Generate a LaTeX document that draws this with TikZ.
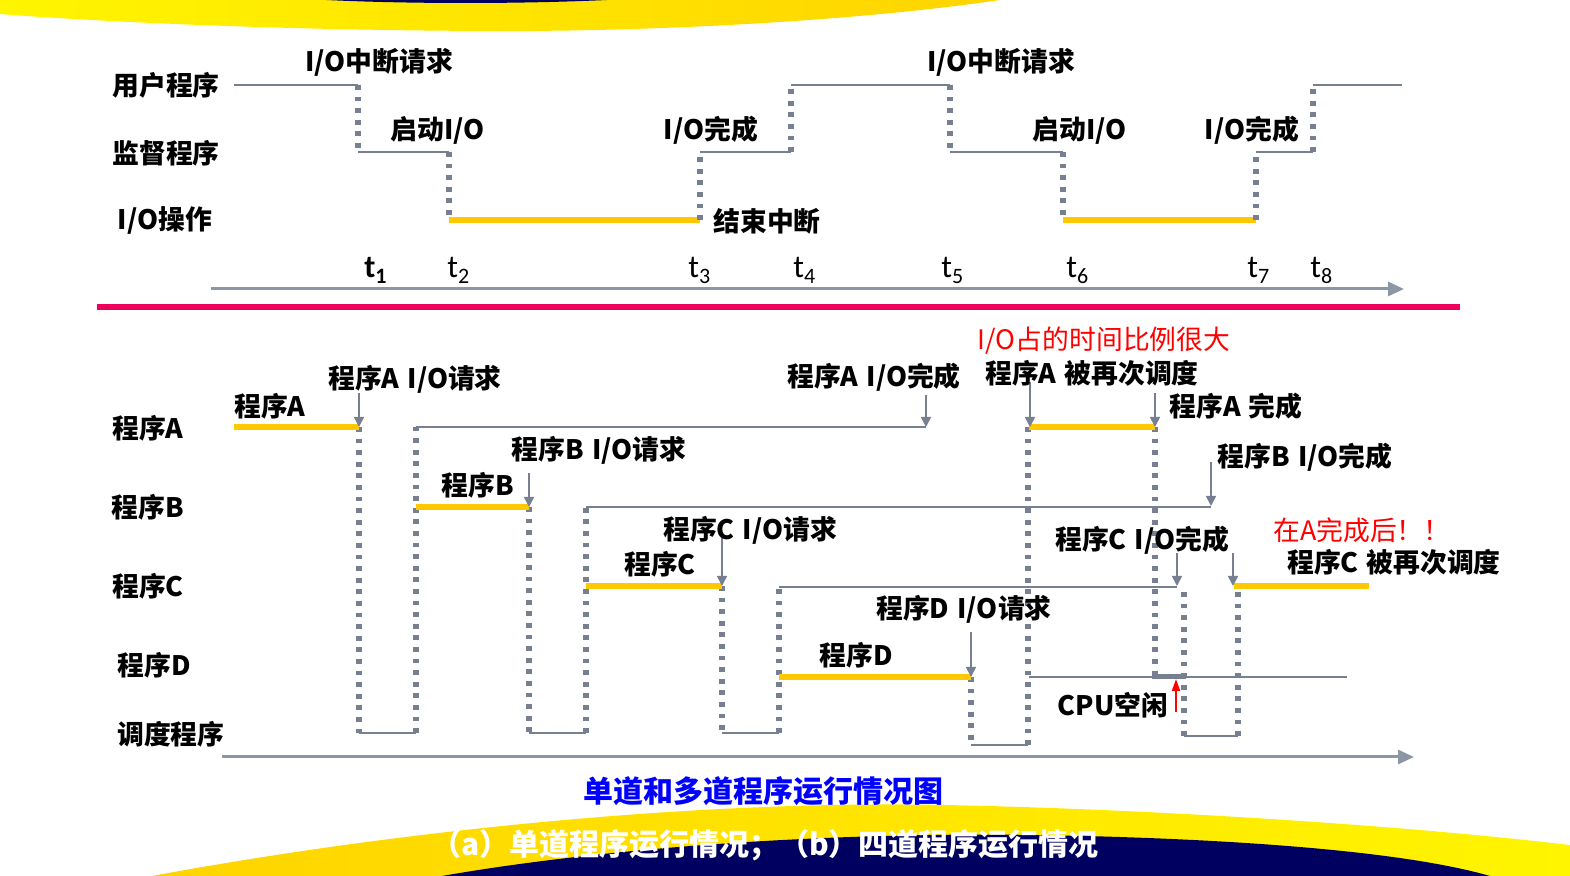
\documentclass[tikz,border=0pt]{standalone}
\usepackage{fontspec}
\usetikzlibrary{arrows.meta}
\setmainfont{Noto Sans CJK SC}
\newfontfamily\tfont{Carlito}
\definecolor{lgray}{RGB}{118,128,145}
\definecolor{axgray}{RGB}{140,150,165}
\definecolor{runyel}{RGB}{255,200,0}
\definecolor{rosered}{RGB}{236,0,92}
\definecolor{navy}{RGB}{0,0,96}
\definecolor{goldL}{RGB}{255,212,0}
\definecolor{yelR}{RGB}{255,245,0}
\newcommand{\tsub}[2][]{{\tfont\fontsize{16}{16}\selectfont#1t\raisebox{-3pt}{\fontsize{11}{11}\selectfont#2}}}
\newcommand{\gap}{\hspace{0.3em}}
\tikzset{
  lbl/.style={inner sep=0pt, font=\bfseries\fontsize{13.4}{15}\selectfont},
  note/.style={inner sep=0pt, text=red, font=\fontsize{13.4}{15}\selectfont},
  tlbl/.style={inner sep=0pt, anchor=base west},
  thinln/.style={draw=lgray, line width=1pt},
  dotln/.style={draw=lgray, line width=2.8pt, dash pattern=on 2.4pt off 3.4pt},
  run/.style={draw=runyel, line width=3pt},
  callout/.style={draw=lgray, line width=0.8pt, -{Triangle[length=5pt,width=5pt]}},
  axis/.style={draw=axgray, line width=1.5pt, -{Triangle[length=8pt,width=7pt]}}
}
\begin{document}
\begin{tikzpicture}[x=0.5pt,y=-0.5pt]
\useasboundingbox (0,0) rectangle (1570,876);
% decoration top and bottom
\shade[left color=yelR, right color=goldL] (0,0) -- (1000,0) .. controls (850,22) and (650,31) .. (510,31) .. controls (300,31) and (100,22) .. (0,14) -- cycle;
\fill[navy] (326,0) -- (607,0) .. controls (520,4) and (410,4) .. (326,0);
\shade[left color=goldL, right color=yelR] (152,876) .. controls (400,830) and (700,800) .. (944,805) .. controls (1150,809) and (1400,825) .. (1570,845) -- (1570,876) -- cycle;
\fill[navy] (442,876) .. controls (620,845) and (850,832) .. (1037,835) .. controls (1220,838) and (1400,850) .. (1490,876) -- cycle;

% single program
\node[lbl] (lblU) at (166,85) {用户程序};
\node[lbl] (lblS) at (166,153) {监督程序};
\node[lbl] (lblIO) at (165,221) {I/O操作};
\foreach \xa/\xb/\y in {234/358/85, 358/449/152, 700/791/152, 791/950/85, 950/1063/152, 1256/1313/152, 1313/1402/85}
  \draw[thinln] (\xa,\y) -- (\xb,\y);
\draw[run] (449,220) -- (700,220); \draw[run] (1063,220) -- (1256,220);
\foreach \x/\ya/\yb in {358/85/152, 449/152/220, 700/220/152, 791/152/85, 950/85/152, 1063/152/220, 1256/220/152, 1313/152/85}
  \draw[dotln] (\x,\ya) -- (\x,\yb);
\node[lbl] (intA) at (379,62) {I/O中断请求};
\node[lbl] (startA) at (438,130) {启动I/O};
\node[lbl] (doneA) at (711,130) {I/O完成};
\node[lbl] (endint) at (767,221) {结束中断};
\node[lbl] (intB) at (1001,62) {I/O中断请求};
\node[lbl] (startB) at (1080,130) {启动I/O};
\node[lbl] (doneB) at (1252,130) {I/O完成};
\node[tlbl] (t1) at (364,278) {\tsub[\bfseries]{1}};
\foreach \x/\n in {447/2, 688/3, 793/4, 941/5, 1066/6, 1247/7, 1310/8}
  \node[tlbl] (t\n) at (\x,278) {\tsub{\n}};
\draw[axis] (211,289) -- (1404,289);
\draw[rosered, line width=3pt] (97,307) -- (1460,307);

% four programs
\node[lbl] (pA) at (148,428) {程序A};
\node[lbl] (pB) at (148,507) {程序B};
\node[lbl] (pC) at (148,586) {程序C};
\node[lbl] (pD) at (154,665) {程序D};
\node[lbl] (sched) at (171,734) {调度程序};
\draw[thinln] (416,427) -- (926,427); \draw[thinln] (586,507) -- (1211,507); \draw[thinln] (779,587) -- (1177,587);
\draw[thinln] (1029,677) -- (1347,677);
\foreach \xa/\xb/\y in {359/416/733, 529/586/733, 722/779/733, 971/1028/745, 1184/1238/736}
  \draw[thinln] (\xa,\y) -- (\xb,\y);
\foreach \x/\ya/\yb in {359/427/733, 416/733/427, 529/507/733, 586/733/507, 722/586/733, 779/733/587, 971/677/745, 1028/745/427, 1155/427/677, 1184/592/736, 1238/736/586}
  \draw[dotln] (\x,\ya) -- (\x,\yb);
\draw[run] (234,427) -- (359,427); \draw[run] (416,507) -- (529,507); \draw[run] (586,586) -- (722,586);
\draw[run] (779,677) -- (971,677); \draw[run] (1029,427) -- (1155,427); \draw[run] (1234,586) -- (1369,586);
\draw[lgray, line width=2.5pt] (1152,677) -- (1186,677);
\foreach \x/\ya/\yb in {359/393/427, 529/473/507, 722/535/586, 971/632/677, 926/395/427, 1030/382/427, 1155/393/427, 1211/462/506, 1177/553/586, 1233/553/586}
  \draw[callout] (\x,\ya) -- (\x,\yb);
\draw[red, line width=1pt, -{Triangle[length=6pt,width=4pt]}] (1176,712) -- (1176,679);
\node[lbl] (runA) at (270,406) {程序A};
\node[lbl] (reqA) at (415,379) {程序A\gap I/O请求};
\node[lbl] (runB) at (478,485) {程序B};
\node[lbl] (reqB) at (599,450) {程序B\gap I/O请求};
\node[lbl] (runC) at (660,564) {程序C};
\node[lbl] (reqC) at (750,530) {程序C\gap I/O请求};
\node[lbl] (runD) at (856,655) {程序D};
\node[lbl] (reqD) at (964,609) {程序D\gap I/O请求};
\node[lbl] (doneA2) at (874,377) {程序A\gap I/O完成};
\node[note] (ratio) at (1104,341) {I/O占的时间比例很大};
\node[lbl] (reschedA) at (1092,373) {程序A\gap 被再次调度};
\node[lbl] (finA) at (1236,406) {程序A\gap 完成};
\node[lbl] (doneB2) at (1305,457) {程序B\gap I/O完成};
\node[lbl] (doneC2) at (1142,540) {程序C\gap I/O完成};
\node[note] (afterA) at (1362,530) {在A完成后！！};
\node[lbl] (reschedC) at (1394,562) {程序C\gap 被再次调度};
\node[lbl] (idle) at (1113,705) {CPU空闲};
\draw[axis] (222,757) -- (1414,757);

% captions
\node[inner sep=0pt, text=blue, font=\bfseries\fontsize{15}{17}\selectfont] (title) at (763,791) {单道和多道程序运行情况图};
\node[inner sep=0pt, text=white, font=\bfseries\fontsize{15}{17}\selectfont] (sub) at (765,845) {（a）单道程序运行情况；（b）四道程序运行情况};
\end{tikzpicture}
\end{document}
